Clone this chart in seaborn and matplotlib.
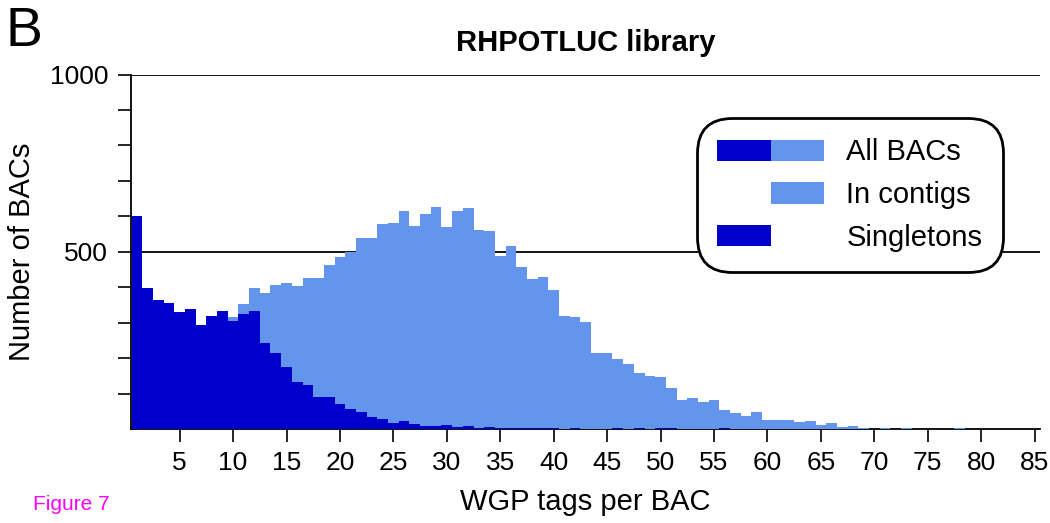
import matplotlib
matplotlib.use("Agg")
import matplotlib.pyplot as plt
import seaborn as sns
import pandas as pd
import numpy as np
from matplotlib.patches import Patch
from matplotlib.legend_handler import HandlerTuple

# ---- data ----
tags = list(range(1, 86))
all_bacs = [602, 398, 365, 356, 330, 339, 294, 319, 333, 316,
            353, 398, 384, 407, 412, 404, 426, 426, 463, 486,
            499, 539, 539, 579, 582, 616, 573, 607, 627, 571,
            616, 624, 562, 559, 489, 517, 458, 424, 429, 393,
            319, 316, 302, 215, 215, 198, 184, 158, 150, 147,
            116, 82, 88, 77, 82, 54, 45, 37, 48, 26,
            26, 26, 20, 23, 11, 17, 6, 8, 3, 1,
            3, 1, 3, 1, 1, 1, 1, 3, 0, 1,
            0, 1, 0, 0, 1]
singletons = [602, 398, 365, 356, 330, 339, 294, 319, 333, 306,
              325, 333, 243, 215, 175, 133, 125, 90, 90, 70,
              56, 48, 34, 28, 17, 23, 14, 8, 8, 11,
              6, 8, 4, 6, 4, 3, 3, 3, 3, 3,
              0, 3, 0, 0, 0, 3, 0, 3, 0, 3,
              3, 0, 0, 0, 0, 3, 0, 0, 0, 0,
              0, 0, 0, 0, 0, 0, 0, 0, 0, 0,
              0, 0, 0, 0, 0, 0, 0, 0, 0, 0,
              0, 0, 0, 0, 0]
x_ticks = list(range(5, 90, 5))
y_major = [500, 1000]
y_minor = [100, 200, 300, 400, 600, 700, 800, 900]

title = "RHPOTLUC library"
xlabel = "WGP tags per BAC"
ylabel = "Number of BACs"
legend_labels = ["All BACs", "In contigs", "Singletons"]

dark = "#0000CD"
light = "#6495ED"

df = pd.DataFrame({"tags": tags, "all": all_bacs, "single": singletons})

sns.set_style("ticks")
plt.rcParams["font.family"] = ["Liberation Sans", "DejaVu Sans"]
plt.rcParams["text.color"] = "black"
plt.rcParams["axes.labelcolor"] = "black"
plt.rcParams["xtick.color"] = "black"
plt.rcParams["ytick.color"] = "black"
plt.rcParams["axes.edgecolor"] = "black"

fig = plt.figure(figsize=(10.5, 5.23), dpi=100)
ax = fig.add_axes([131 / 1050, 1 - 429 / 523, (1040 - 131) / 1050, (429 - 74.5) / 523])

sns.histplot(data=df, x="tags", weights="all", discrete=True, color=light,
             alpha=1, linewidth=0, element="bars", ax=ax, zorder=2)
sns.histplot(data=df, x="tags", weights="single", discrete=True, color=dark,
             alpha=1, linewidth=0, element="bars", ax=ax, zorder=3)

ax.set_xlim(0.45, 85.5)
ax.set_ylim(0, 1000)
ax.set_xticks(x_ticks)
ax.set_xticklabels([str(t) for t in x_ticks])
ax.set_yticks(y_major)
ax.set_yticklabels([str(t) for t in y_major])
ax.set_yticks(y_minor, minor=True)

ax.grid(False)
for yv in y_major:
    ax.axhline(yv, color="black", lw=1.3, zorder=1)

for s in ["top", "right"]:
    ax.spines[s].set_visible(False)
ax.spines["left"].set_linewidth(1.3)
ax.spines["bottom"].set_linewidth(1.3)
ax.spines["bottom"].set_zorder(1)
ax.spines["left"].set_zorder(4)

ax.tick_params(axis="both", which="both", direction="out", length=9.5,
               width=1.2, color="black", labelcolor="black", labelsize=19)
ax.tick_params(axis="x", pad=6)
ax.tick_params(axis="y", pad=7)

ax.set_title(title, fontsize=21, fontweight="bold", pad=17, color="black")
ax.set_xlabel(xlabel, fontsize=21, labelpad=10, color="black")
ax.set_ylabel(ylabel, fontsize=21, color="black")
ax.yaxis.set_label_coords(-0.104, 0.5)

fig.text(5 / 1050, 1 - 32 / 523, "B", fontsize=40, ha="left", va="center",
         color="black")
fig.text(33 / 1050, 1 - 505 / 523, "Figure 7", fontsize=15, color="#FF00FF",
         ha="left", va="center")

p_dark = Patch(facecolor=dark, edgecolor="none")
p_light = Patch(facecolor=light, edgecolor="none")
p_none = Patch(facecolor="none", edgecolor="none")
leg = ax.legend([(p_dark, p_light), (p_none, p_light), (p_dark, p_none)],
                legend_labels,
                handler_map={tuple: HandlerTuple(ndivide=2, pad=0)},
                loc="upper left", bbox_to_anchor=(697 / 1050, 1 - 118 / 523),
                bbox_transform=fig.transFigure, fontsize=21,
                handlelength=3.67, handleheight=0.75, handletextpad=0.75,
                borderpad=0.7, labelspacing=0.5, borderaxespad=0,
                frameon=True, fancybox=True)
for t in leg.get_texts():
    t.set_color("black")
frame = leg.get_frame()
frame.set_boxstyle("round,pad=0,rounding_size=1.2")
frame.set_edgecolor("black")
frame.set_linewidth(2)
frame.set_facecolor("white")
frame.set_alpha(1)
leg.set_zorder(10)

fig.savefig("out.png", dpi=100)
